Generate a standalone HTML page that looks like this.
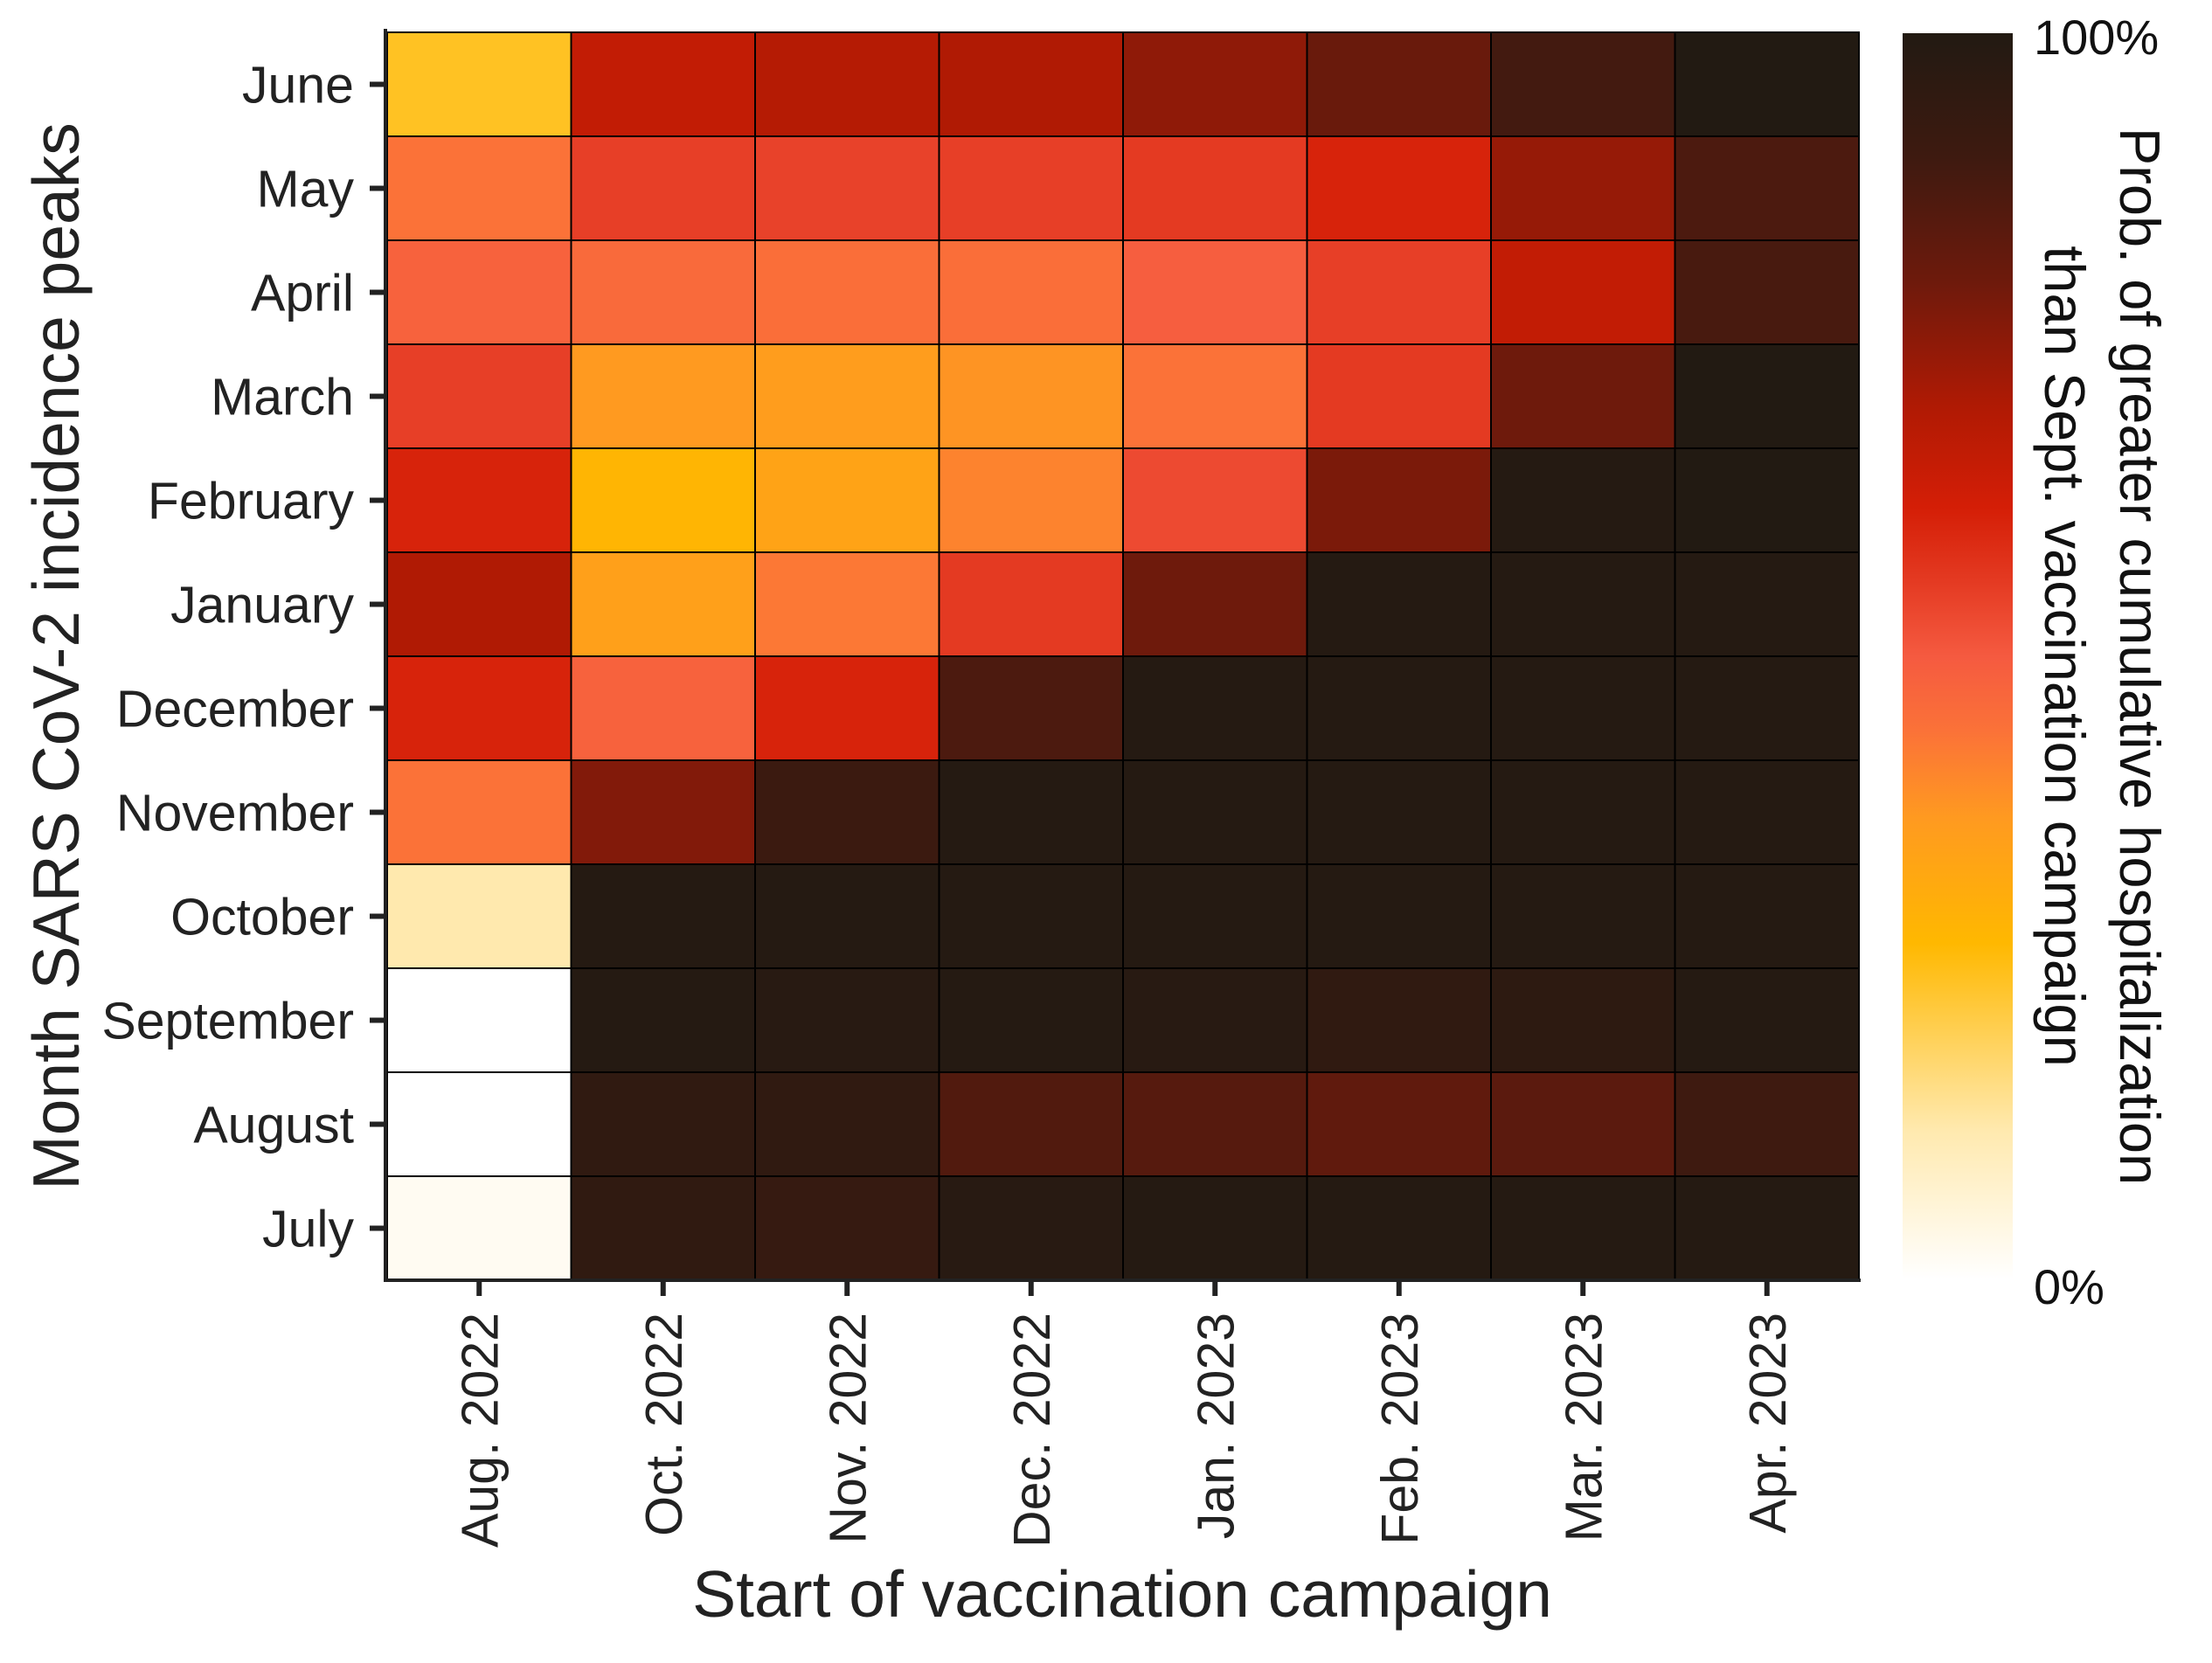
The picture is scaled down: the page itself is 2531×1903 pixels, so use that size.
<!DOCTYPE html>
<html><head><meta charset="utf-8"><style>
html,body{margin:0;padding:0;background:#fff}
svg{display:block;font-family:"Liberation Sans",Arial,sans-serif}
</style></head><body>
<svg id="chart" width="2531" height="1903" viewBox="0 0 2531 1903" xmlns="http://www.w3.org/2000/svg">
<defs>
<linearGradient id="cbar" x1="0" y1="1" x2="0" y2="0"></linearGradient>
</defs>
<g id="cells"></g>
<g id="axes"></g>
<text x="0" y="0" font-size="75" fill="#222" text-anchor="middle" transform="translate(90,751) rotate(-90)">Month SARS CoV-2 incidence peaks</text>
<text x="1284" y="1850" font-size="75" fill="#222" text-anchor="middle">Start of vaccination campaign</text>
<rect x="2177" y="38" width="126" height="1426" fill="url(#cbar)"/>
<text x="2327" y="62" font-size="56" fill="#111">100%</text>
<text x="2327" y="1492" font-size="56" fill="#111">0%</text>
<text x="0" y="0" font-size="65" fill="#111" text-anchor="middle" transform="translate(2426,751) rotate(90)">Prob. of greater cumulative hospitalization</text>
<text x="0" y="0" font-size="65" fill="#111" text-anchor="middle" transform="translate(2340,751) rotate(90)">than Sept. vaccination campaign</text>
</svg>
<script>
const xCategories = ["Aug. 2022","Oct. 2022","Nov. 2022","Dec. 2022","Jan. 2023","Feb. 2023","Mar. 2023","Apr. 2023"];
const yCategories = ["July","August","September","October","November","December","January","February","March","April","May","June"];
const rowJuly      = [0.02,0.95,0.93,0.98,0.99,0.99,0.99,0.99];
const rowAugust    = [0.00,0.95,0.95,0.86,0.85,0.83,0.84,0.90];
const rowSeptember = [0.00,0.99,0.98,0.99,0.98,0.95,0.96,0.99];
const rowOctober   = [0.12,0.99,0.99,0.99,0.99,0.99,0.99,0.99];
const rowNovember  = [0.44,0.77,0.91,0.99,0.99,0.99,0.99,0.99];
const rowDecember  = [0.61,0.48,0.61,0.87,0.99,0.99,0.99,0.99];
const rowJanuary   = [0.70,0.35,0.43,0.56,0.80,0.99,0.99,0.99];
const rowFebruary  = [0.61,0.28,0.34,0.41,0.53,0.78,0.99,1.00];
const rowMarch     = [0.55,0.37,0.36,0.38,0.44,0.56,0.80,1.00];
const rowApril     = [0.48,0.46,0.45,0.45,0.49,0.55,0.66,0.88];
const rowMay       = [0.44,0.55,0.545,0.55,0.56,0.61,0.74,0.87];
const rowJune      = [0.24,0.66,0.69,0.70,0.75,0.81,0.89,1.00];
const values = [rowJuly,rowAugust,rowSeptember,rowOctober,rowNovember,rowDecember,rowJanuary,rowFebruary,rowMarch,rowApril,rowMay,rowJune];

const stops = [[0,"#FFFFFF"],[0.12,"#FFE9AE"],[0.27,"#FFB800"],[0.37,"#FF9A20"],[0.44,"#FB7238"],[0.5,"#F55A40"],[0.56,"#E43A22"],[0.62,"#D41E06"],[0.7,"#B01A04"],[0.8,"#6E1A0C"],[0.9,"#3E1A10"],[1,"#221A12"]];
function hex(c){return [1,3,5].map(i=>parseInt(c.substr(i,2),16));}
function color(v){
  v=Math.max(0,Math.min(1,v));
  for(let i=1;i<stops.length;i++){
    if(v<=stops[i][0]){
      const t=(v-stops[i-1][0])/(stops[i][0]-stops[i-1][0]);
      const a=hex(stops[i-1][1]),b=hex(stops[i][1]);
      return "rgb("+a.map((x,k)=>Math.round(x+(b[k]-x)*t)).join(",")+")";
    }
  }
  return stops[stops.length-1][1];
}
const NS="http://www.w3.org/2000/svg";
const L=443,R=2127,T=37,B=1465;
const cw=(R-L)/xCategories.length, rh=(B-T)/yCategories.length;
function xPos(i){return L+i*cw;}
function yPos(j){return B-(j+1)*rh;}
function mk(tag,attrs,parent){const e=document.createElementNS(NS,tag);for(const k in attrs)e.setAttribute(k,attrs[k]);parent.appendChild(e);return e;}

const gc=document.getElementById("cells");
values.forEach((row,j)=>row.forEach((v,i)=>{
  const r=mk("rect",{x:xPos(i),y:yPos(j),width:cw,height:rh,fill:color(v),stroke:"#000","stroke-width":2},gc);
  
  
}));

const grad=document.getElementById("cbar");
stops.forEach(s=>mk("stop",{offset:s[0],"stop-color":s[1]},grad));

const ga=document.getElementById("axes");
const yl=mk("line",{x1:L-2,y1:T-4,x2:L-2,y2:B+2,stroke:"#222","stroke-width":4},ga);


const xl=mk("line",{x1:L-4,y1:B,x2:R+2,y2:B,stroke:"#222","stroke-width":4},ga);


yCategories.forEach((c,j)=>{
  const y=yPos(j)+rh/2;
  mk("line",{x1:L-20,y1:y,x2:L-2,y2:y,stroke:"#222","stroke-width":6},ga);
  const t=mk("text",{x:L-38,y:y+21,"font-size":59,fill:"#222","text-anchor":"end"},ga);
  t.textContent=c;
  
  
});
xCategories.forEach((c,i)=>{
  const x=xPos(i)+cw/2;
  mk("line",{x1:x,y1:B,x2:x,y2:B+18,stroke:"#222","stroke-width":6},ga);
  const t=mk("text",{x:0,y:0,"font-size":59,fill:"#222","text-anchor":"end",transform:"translate("+(x+21)+","+(B+37)+") rotate(-90)"},ga);
  t.textContent=c;
  
  
});
</script>
</body></html>
